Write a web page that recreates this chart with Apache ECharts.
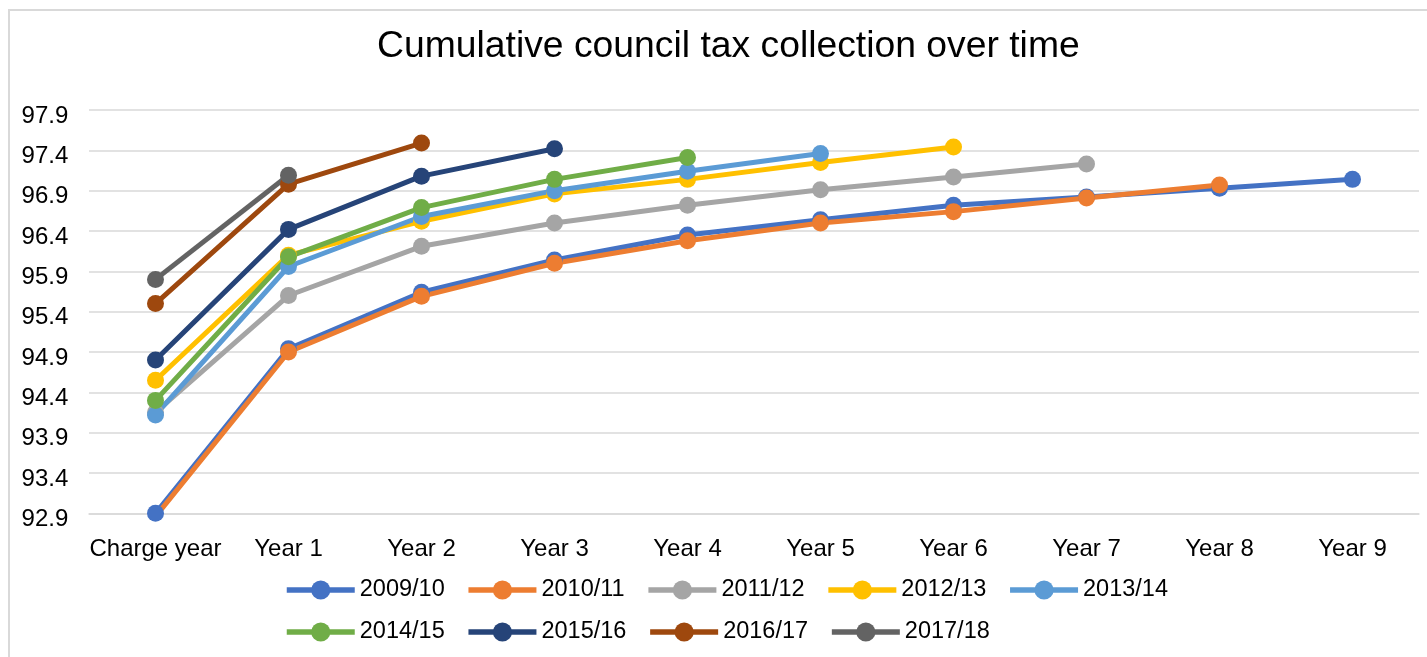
<!DOCTYPE html>
<html>
<head>
<meta charset="utf-8">
<script src="https://cdn.jsdelivr.net/npm/echarts@6/dist/echarts.min.js"></script>
<style>
html,body{margin:0;padding:0;background:#fff;}
#chart{width:1427px;height:657px;}
</style>
</head>
<body>
<div id="chart"></div>
<script>
const categories = ['Charge year','Year 1','Year 2','Year 3','Year 4','Year 5','Year 6','Year 7','Year 8','Year 9'];
const yTicks = [92.9, 93.4, 93.9, 94.4, 94.9, 95.4, 95.9, 96.4, 96.9, 97.4, 97.9];
const seriesNames = ['2009/10','2010/11','2011/12','2012/13','2013/14','2014/15','2015/16','2016/17','2017/18'];
const s200910 = [92.90, 94.94, 95.64, 96.04, 96.35, 96.54, 96.72, 96.82, 96.93, 97.04];
const s201011 = [92.86, 94.90, 95.59, 96.00, 96.28, 96.50, 96.64, 96.81, 96.97];
const s201112 = [94.15, 95.60, 96.21, 96.50, 96.72, 96.91, 97.07, 97.23];
const s201213 = [94.55, 96.10, 96.52, 96.86, 97.04, 97.25, 97.44];
const s201314 = [94.12, 95.96, 96.58, 96.90, 97.14, 97.36];
const s201415 = [94.30, 96.08, 96.69, 97.04, 97.31];
const s201516 = [94.80, 96.42, 97.08, 97.42];
const s201617 = [95.50, 96.98, 97.49];
const s201718 = [95.80, 97.09];
const seriesValues = [s200910, s201011, s201112, s201213, s201314, s201415, s201516, s201617, s201718];
const colors = ['#4472C4','#ED7D31','#A5A5A5','#FFC000','#5B9BD5','#70AD47','#264478','#9E480E','#636363'];

const FONT = '"Liberation Sans", Arial, sans-serif';
const chart = echarts.init(document.getElementById('chart'), null, {renderer:'canvas'});

const legendBase = {
  orient: 'horizontal',
  left: 284,
  padding: 0,
  itemWidth: 68,
  itemHeight: 24,
  itemGap: 21,
  lineStyle: { width: 5.5 },
  textStyle: { fontFamily: FONT, fontSize: 23.5, color: '#000' },
  selectedMode: false
};

const option = {
  animation: false,
  backgroundColor: '#fff',
  color: colors,
  title: {
    text: 'Cumulative council tax collection over time',
    left: 377,
    top: 28.5,
    padding: 0,
    textStyle: { fontFamily: FONT, fontSize: 37.3, fontWeight: 'normal', color: '#000' }
  },
  graphic: [{
    type: 'rect',
    shape: { x: 9, y: 10, width: 1500, height: 800 },
    style: { fill: 'none', stroke: '#D9D9D9', lineWidth: 2 },
    silent: true,
    z: -10
  }],
  legend: [
    Object.assign({}, legendBase, { top: 578, data: seriesNames.slice(0,5) }),
    Object.assign({}, legendBase, { top: 620, data: seriesNames.slice(5) })
  ],
  grid: { left: 89, top: 110, width: 1330, height: 403.3, containLabel: false },
  xAxis: {
    type: 'category',
    data: categories,
    boundaryGap: true,
    axisLine: { show: true, lineStyle: { color: '#D9D9D9', width: 1.5 } },
    axisTick: { show: false },
    axisLabel: { fontFamily: FONT, fontSize: 24, color: '#000', margin: 24, interval: 0 }
  },
  yAxis: {
    type: 'value',
    min: 92.9,
    max: 97.9,
    axisLine: { show: false },
    axisTick: { show: false, customValues: yTicks },
    axisLabel: {
      customValues: yTicks,
      color: '#000', margin: 20.7,
      formatter: v => '{a|' + Number(v).toFixed(1) + '}',
      rich: { a: { fontFamily: FONT, fontSize: 24, color: '#000', padding: [12, 0, 0, 0] } }
    },
    splitLine: { show: true, lineStyle: { color: '#D9D9D9', width: 1.5 } }
  },
  series: seriesNames.map((name, i) => ({
    name: name,
    type: 'line',
    data: seriesValues[i],
    symbol: 'circle',
    symbolSize: 17,
    showSymbol: true,
    clip: true,
    lineStyle: { width: 5, color: colors[i] },
    itemStyle: { color: colors[i] },
    emphasis: { disabled: true }
  }))
};
chart.setOption(option);
</script>
</body>
</html>
